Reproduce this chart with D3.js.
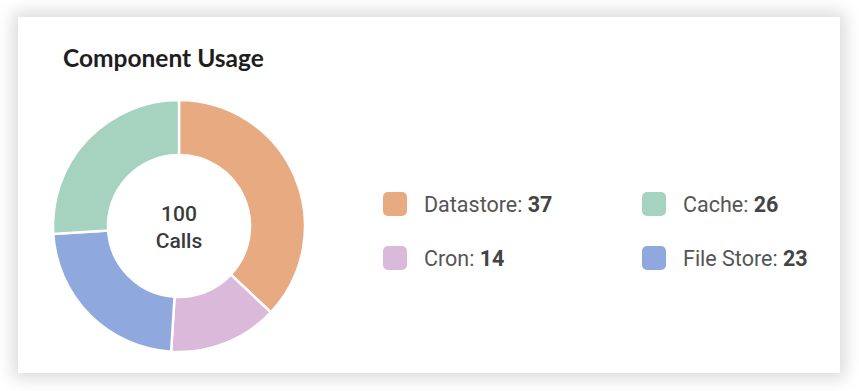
<!DOCTYPE html>
<html><head><meta charset="utf-8">
<script src="https://cdn.jsdelivr.net/npm/d3@7"></script>
<style>
html,body{margin:0;padding:0;background:#fff;}
#card{position:absolute;left:18px;top:17px;width:822px;height:356px;background:#fff;box-shadow:0 0 16px 5px rgba(0,0,0,0.15);}
svg{position:absolute;left:0;top:0;}
</style></head>
<body>
<div id="card"></div>
<svg id="chart" width="859" height="391"></svg>
<script>
const categories = ["Datastore", "Cron", "File Store", "Cache"];
const values = [37, 14, 23, 26];
const colors = ["#E8AA80", "#DAB9DB", "#8FA8DE", "#A6D3C0"];
const legendOrder = ["Datastore", "Cache", "Cron", "File Store"];
const centerLabel = ["100", "Calls"];
const title = "Component Usage";

const svg = d3.select("#chart");
svg.append("text").attr("x", 63).attr("y", 67)
  .attr("font-family", "Lato, sans-serif").attr("font-weight", 700)
  .attr("font-size", 24.5).attr("fill", "#1e1e1e").text(title);

const cx = 179, cy = 226, rOuter = 126, rInner = 71;
const color = d3.scaleOrdinal().domain(categories).range(colors);
const data = categories.map((c, i) => ({name: c, value: values[i]}));
const pie = d3.pie().value(d => d.value).sort(null);
const arc = d3.arc().innerRadius(rInner).outerRadius(rOuter);
const g = svg.append("g").attr("transform", `translate(${cx},${cy})`);
g.selectAll("path").data(pie(data)).join("path")
  .attr("d", arc).attr("fill", d => color(d.data.name))
  .attr("stroke", "#fff").attr("stroke-width", 2.5);

g.append("text").attr("text-anchor", "middle").attr("y", -5)
  .attr("font-family", "Roboto, sans-serif").attr("font-weight", 500)
  .attr("font-size", 21).attr("fill", "#3a3a3a").text(centerLabel[0]);
g.append("text").attr("text-anchor", "middle").attr("y", 22)
  .attr("font-family", "Roboto, sans-serif").attr("font-weight", 500)
  .attr("font-size", 21).attr("fill", "#3a3a3a").text(centerLabel[1]);

const colX = d3.scalePoint().domain([0, 1]).range([383, 642]);
const rowY = d3.scalePoint().domain([0, 1]).range([192, 246]);
const valueOf = name => values[categories.indexOf(name)];
legendOrder.forEach((name, i) => {
  const x = colX(i % 2), y = rowY(Math.floor(i / 2));
  svg.append("rect").attr("x", x).attr("y", y).attr("width", 24).attr("height", 24)
    .attr("rx", 5).attr("fill", color(name));
  const t = svg.append("text").attr("x", x + 41).attr("y", y + 20)
    .attr("font-family", "Roboto, sans-serif").attr("font-size", 21.5).attr("fill", "#555");
  t.append("tspan").text(name + ": ");
  t.append("tspan").attr("font-weight", 700).attr("fill", "#444").text(valueOf(name));
});
</script>
</body></html>
